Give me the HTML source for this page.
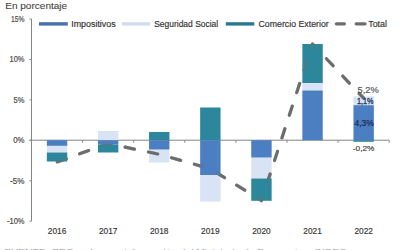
<!DOCTYPE html>
<html><head><meta charset="utf-8"><style>
html,body{margin:0;padding:0;background:#fff;width:400px;height:250px;overflow:hidden}
svg{display:block;font-family:"Liberation Sans", sans-serif}
</style></head><body>
<svg width="400" height="250" viewBox="0 0 400 250">
<rect width="400" height="250" fill="#fff"/>
<text x="5.2" y="9.1" font-size="8.6" fill="#484848" stroke="#484848" stroke-width="0.12" textLength="62" lengthAdjust="spacingAndGlyphs">En porcentaje</text>
<line x1="31.5" y1="19" x2="31.5" y2="221" stroke="#858585" stroke-width="1"/>
<line x1="29.5" y1="19.00" x2="31.5" y2="19.00" stroke="#858585" stroke-width="1"/>
<line x1="29.5" y1="59.44" x2="31.5" y2="59.44" stroke="#858585" stroke-width="1"/>
<line x1="29.5" y1="99.88" x2="31.5" y2="99.88" stroke="#858585" stroke-width="1"/>
<line x1="29.5" y1="140.32" x2="31.5" y2="140.32" stroke="#858585" stroke-width="1"/>
<line x1="29.5" y1="180.76" x2="31.5" y2="180.76" stroke="#858585" stroke-width="1"/>
<line x1="29.5" y1="221.20" x2="31.5" y2="221.20" stroke="#858585" stroke-width="1"/>
<line x1="29.5" y1="140.2" x2="389.2" y2="140.2" stroke="#858585" stroke-width="1"/>
<line x1="82.60" y1="140.2" x2="82.60" y2="142.79999999999998" stroke="#858585" stroke-width="1"/>
<line x1="133.70" y1="140.2" x2="133.70" y2="142.79999999999998" stroke="#858585" stroke-width="1"/>
<line x1="184.80" y1="140.2" x2="184.80" y2="142.79999999999998" stroke="#858585" stroke-width="1"/>
<line x1="235.90" y1="140.2" x2="235.90" y2="142.79999999999998" stroke="#858585" stroke-width="1"/>
<line x1="287.00" y1="140.2" x2="287.00" y2="142.79999999999998" stroke="#858585" stroke-width="1"/>
<line x1="338.10" y1="140.2" x2="338.10" y2="142.79999999999998" stroke="#858585" stroke-width="1"/>
<line x1="389.20" y1="140.2" x2="389.20" y2="142.79999999999998" stroke="#858585" stroke-width="1"/>
<rect x="46.85" y="145.80" width="20.4" height="6.70" fill="#d8e3f4"/>
<rect x="97.95" y="131.00" width="20.4" height="9.20" fill="#d8e3f4"/>
<rect x="149.05" y="149.50" width="20.4" height="13.00" fill="#d8e3f4"/>
<rect x="200.15" y="175.00" width="20.4" height="26.60" fill="#d8e3f4"/>
<rect x="251.25" y="157.50" width="20.4" height="21.00" fill="#d8e3f4"/>
<rect x="302.35" y="83.00" width="20.4" height="7.50" fill="#d8e3f4"/>
<rect x="353.45" y="96.40" width="20.4" height="8.80" fill="#d8e3f4"/>
<polyline points="57.05,162.00 108.15,143.60 159.25,154.30 210.35,168.80 261.45,200.60 312.55,44.00 363.65,98.20" fill="none" stroke="#6e6d6d" stroke-width="3.2" stroke-dasharray="9.6 14.2" stroke-dashoffset="-0.2" stroke-linecap="round" stroke-linejoin="round"/>
<rect x="46.85" y="140.20" width="20.4" height="5.60" fill="#4c7fc1"/>
<rect x="46.85" y="152.50" width="20.4" height="9.00" fill="#2c879c"/>
<rect x="97.95" y="140.20" width="20.4" height="4.40" fill="#4c7fc1"/>
<rect x="97.95" y="144.60" width="20.4" height="7.90" fill="#2c879c"/>
<rect x="149.05" y="132.00" width="20.4" height="8.20" fill="#2c879c"/>
<rect x="149.05" y="140.20" width="20.4" height="9.30" fill="#4c7fc1"/>
<rect x="200.15" y="107.50" width="20.4" height="32.70" fill="#2c879c"/>
<rect x="200.15" y="140.20" width="20.4" height="34.80" fill="#4c7fc1"/>
<rect x="251.25" y="140.20" width="20.4" height="17.30" fill="#4c7fc1"/>
<rect x="251.25" y="178.50" width="20.4" height="22.30" fill="#2c879c"/>
<rect x="302.35" y="44.00" width="20.4" height="39.00" fill="#2c879c"/>
<rect x="302.35" y="90.50" width="20.4" height="49.70" fill="#4c7fc1"/>
<rect x="353.45" y="105.20" width="20.4" height="35.00" fill="#4c7fc1"/>
<rect x="353.45" y="140.20" width="20.4" height="1.60" fill="#2c879c"/>
<polyline points="57.05,162.00 108.15,143.60 159.25,154.30 210.35,168.80 261.45,200.60 312.55,44.00 363.65,98.20" fill="none" stroke="#6e6d6d" stroke-width="3.2" stroke-dasharray="9.6 14.2" stroke-dashoffset="-0.2" stroke-linecap="round" stroke-linejoin="round" opacity="0.3"/>
<text x="11.00" y="21.90" font-size="8.2" fill="#484848" stroke="#484848" stroke-width="0.17" textLength="13.5" lengthAdjust="spacingAndGlyphs">15%</text>
<text x="9.50" y="62.34" font-size="8.2" fill="#484848" stroke="#484848" stroke-width="0.17" textLength="15" lengthAdjust="spacingAndGlyphs">10%</text>
<text x="13.60" y="102.78" font-size="8.2" fill="#484848" stroke="#484848" stroke-width="0.17" textLength="10.9" lengthAdjust="spacingAndGlyphs">5%</text>
<text x="13.20" y="143.22" font-size="8.2" fill="#484848" stroke="#484848" stroke-width="0.17" textLength="11.3" lengthAdjust="spacingAndGlyphs">0%</text>
<text x="10.10" y="183.66" font-size="8.2" fill="#484848" stroke="#484848" stroke-width="0.17" textLength="14.4" lengthAdjust="spacingAndGlyphs">-5%</text>
<text x="7.00" y="224.10" font-size="8.2" fill="#484848" stroke="#484848" stroke-width="0.17" textLength="17.5" lengthAdjust="spacingAndGlyphs">-10%</text>
<text x="47.80" y="233.7" font-size="8.6" fill="#383838" stroke="#383838" stroke-width="0.17" textLength="18.5" lengthAdjust="spacingAndGlyphs">2016</text>
<text x="98.90" y="233.7" font-size="8.6" fill="#383838" stroke="#383838" stroke-width="0.17" textLength="18.5" lengthAdjust="spacingAndGlyphs">2017</text>
<text x="150.00" y="233.7" font-size="8.6" fill="#383838" stroke="#383838" stroke-width="0.17" textLength="18.5" lengthAdjust="spacingAndGlyphs">2018</text>
<text x="201.10" y="233.7" font-size="8.6" fill="#383838" stroke="#383838" stroke-width="0.17" textLength="18.5" lengthAdjust="spacingAndGlyphs">2019</text>
<text x="252.20" y="233.7" font-size="8.6" fill="#383838" stroke="#383838" stroke-width="0.17" textLength="18.5" lengthAdjust="spacingAndGlyphs">2020</text>
<text x="303.30" y="233.7" font-size="8.6" fill="#383838" stroke="#383838" stroke-width="0.17" textLength="18.5" lengthAdjust="spacingAndGlyphs">2021</text>
<text x="354.40" y="233.7" font-size="8.6" fill="#383838" stroke="#383838" stroke-width="0.17" textLength="18.5" lengthAdjust="spacingAndGlyphs">2022</text>
<line x1="39" y1="23.9" x2="67.8" y2="23.9" stroke="#4672ae" stroke-width="3.4"/>
<text x="71.2" y="26.7" font-size="8.5" fill="#333" stroke="#333" stroke-width="0.17" textLength="44.5" lengthAdjust="spacingAndGlyphs">Impositivos</text>
<line x1="121.9" y1="23.9" x2="150.1" y2="23.9" stroke="#d2ddef" stroke-width="3.4"/>
<text x="154.2" y="26.7" font-size="8.5" fill="#333" stroke="#333" stroke-width="0.17" textLength="64" lengthAdjust="spacingAndGlyphs">Seguridad Social</text>
<line x1="225.8" y1="23.9" x2="254.3" y2="23.9" stroke="#2a7890" stroke-width="3.4"/>
<text x="258.5" y="26.7" font-size="8.5" fill="#333" stroke="#333" stroke-width="0.17" textLength="70.2" lengthAdjust="spacingAndGlyphs">Comercio Exterior</text>
<line x1="336.4" y1="23.8" x2="344.4" y2="23.8" stroke="#6e6d6d" stroke-width="3.3" stroke-linecap="round"/>
<line x1="356.2" y1="23.8" x2="365" y2="23.8" stroke="#6e6d6d" stroke-width="3.3" stroke-linecap="round"/>
<text x="368.2" y="26.7" font-size="8.5" fill="#333" stroke="#333" stroke-width="0.17" textLength="18.8" lengthAdjust="spacingAndGlyphs">Total</text>
<text x="357.5" y="92.7" font-size="8.5" fill="#555" stroke="#555" stroke-width="0.17" textLength="21.2" lengthAdjust="spacingAndGlyphs">5,2%</text>
<text x="357" y="104.1" font-size="8.4" fill="#1f2f5a" stroke="#1f2f5a" stroke-width="0.3" textLength="16.5" lengthAdjust="spacingAndGlyphs">1,1%</text>
<text x="354.6" y="126.0" font-size="8.2" fill="#1f2f5a" stroke="#1f2f5a" stroke-width="0.25" textLength="19.2" lengthAdjust="spacingAndGlyphs">4,3%</text>
<text x="352.8" y="151.2" font-size="8" fill="#444" stroke="#444" stroke-width="0.17" textLength="21.6" lengthAdjust="spacingAndGlyphs">-0,2%</text>
<text x="4.5" y="253.6" font-size="8" fill="#9a9a9a" textLength="342" lengthAdjust="spacingAndGlyphs">FUENTE: OPC en base a información del Ministerio de Economía e INDEC</text>
</svg>
</body></html>
